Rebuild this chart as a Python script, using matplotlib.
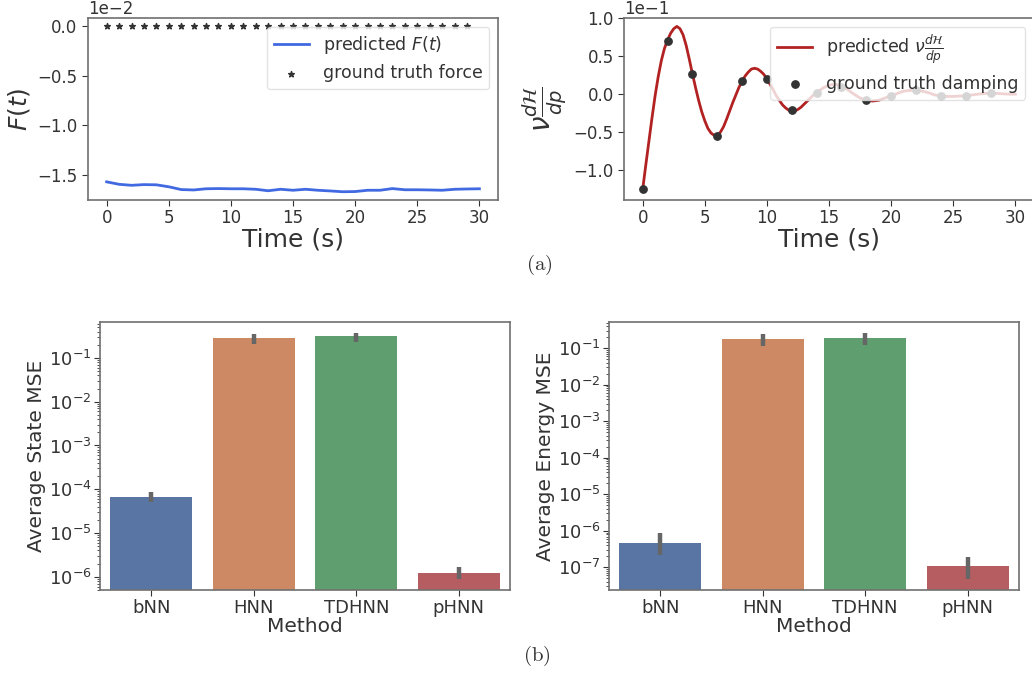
import numpy as np
import matplotlib
matplotlib.use("Agg")
import matplotlib.pyplot as plt

# force panel: learned external force vs ground truth (zero)
force_time = np.arange(0, 31, 1.0)
pred_force = np.array([-1.570, -1.595, -1.605, -1.598, -1.600, -1.620, -1.648, -1.652,
                       -1.640, -1.638, -1.640, -1.640, -1.645, -1.660, -1.645, -1.655,
                       -1.645, -1.655, -1.662, -1.670, -1.668, -1.655, -1.655, -1.638,
                       -1.650, -1.650, -1.652, -1.655, -1.645, -1.642, -1.640]) * 1e-2
true_force_time = np.arange(0, 30, 1.0)
true_force = np.zeros(30)

# damping panel (finer sampling where the oscillation is large)
damp_time = np.concatenate([np.arange(0, 14, 0.25), np.arange(14, 30.5, 0.5)])
pred_damp = np.array([
    -1.25, -0.93, -0.62, -0.31, -0.02, 0.23, 0.44, 0.60, 0.71, 0.80, 0.86, 0.89,
    0.86, 0.78, 0.64, 0.46, 0.27, 0.09, -0.08, -0.23, -0.35, -0.45, -0.51, -0.54,
    -0.54, -0.50, -0.43, -0.33, -0.22, -0.11, -0.01, 0.09, 0.17, 0.24, 0.29, 0.33,
    0.34, 0.33, 0.30, 0.26, 0.20, 0.13, 0.06, -0.02, -0.08, -0.14, -0.18, -0.21,
    -0.22, -0.22, -0.20, -0.17, -0.13, -0.09, -0.05, -0.01,
    0.02, 0.08, 0.12, 0.13, 0.11, 0.06, 0.00, -0.05, -0.08, -0.09, -0.08, -0.05,
    -0.02, 0.01, 0.04, 0.05, 0.05, 0.04, 0.02, -0.01, -0.025, -0.03, -0.03, -0.025,
    -0.02, -0.01, 0.00, 0.01, 0.01, 0.01, 0.005, 0.0, 0.0]) * 1e-1
true_damp_time = np.arange(0, 30, 2.0)
true_damp = np.array([-1.25, 0.695, 0.265, -0.553, 0.168, 0.20, -0.212, 0.01,
                      0.10, -0.075, -0.03, 0.053, -0.027, -0.022, 0.01]) * 1e-1

# MSE comparison
methods = ["bNN", "HNN", "TDHNN", "pHNN"]
bar_colors = ["#5975a4", "#cc8963", "#5f9e6e", "#b55d60"]
state_mse = [6.6e-5, 0.29, 0.31, 1.22e-6]
state_lo = [5.0e-5, 0.21, 0.23, 0.89e-6]
state_hi = [8.5e-5, 0.36, 0.38, 1.67e-6]
energy_mse = [4.6e-7, 0.177, 0.188, 1.09e-7]
energy_lo = [2.2e-7, 0.115, 0.123, 4.7e-8]
energy_hi = [8.5e-7, 0.246, 0.267, 1.88e-7]

txt = "#333333"
plt.rcParams.update({
    "text.color": txt, "axes.labelcolor": txt,
    "xtick.color": txt, "ytick.color": txt,
    "axes.edgecolor": "#707070", "axes.linewidth": 1.2,
    "xtick.major.size": 4, "ytick.major.size": 4,
    "ytick.minor.size": 2,
    "mathtext.fontset": "dejavusans",
})

fig = plt.figure(figsize=(10.32, 6.73), dpi=100)
ax1 = fig.add_axes([0.0853, 0.7028, 0.3973, 0.2704])
ax2 = fig.add_axes([0.6047, 0.7028, 0.3973, 0.2704])
ax3 = fig.add_axes([0.0969, 0.1233, 0.3973, 0.3982])
ax4 = fig.add_axes([0.5901, 0.1233, 0.3973, 0.3982])

ax1.plot(force_time, pred_force, color="royalblue", lw=2, label=r"predicted $F(t)$")
ax1.scatter(true_force_time, true_force, marker="*", s=18, color="#333333",
            label="ground truth force", zorder=3)
ax1.set_ylabel(r"$F(t)$", fontsize=18)
ax1.legend(loc="upper right", fontsize=12.5, edgecolor="#dddddd")

ax2.plot(damp_time, pred_damp, color="firebrick", lw=2,
         label=r"predicted $\nu\frac{d\mathcal{H}}{dp}$")
ax2.scatter(true_damp_time, true_damp, s=28, color="#333333",
            label="ground truth damping", zorder=3)
ax2.set_ylim(-1.39e-1, 1.0e-1)
ax2.set_ylabel(r"$\nu\frac{d\mathcal{H}}{dp}$", fontsize=20)
ax2.legend(loc="upper right", fontsize=12.5, edgecolor="#dddddd")

for ax in (ax1, ax2):
    ax.ticklabel_format(axis="y", style="sci", scilimits=(0, 0), useMathText=False)
    ax.yaxis.get_offset_text().set_fontsize(12)
    ax.tick_params(labelsize=12)
    ax.tick_params(axis="x", pad=2.5)
    ax.set_xticks([0, 5, 10, 15, 20, 25, 30])
    ax.set_xlabel("Time (s)", fontsize=18, labelpad=0)

xpos = np.arange(len(methods))
for ax, vals, lo, hi, ylab, ylim in (
        (ax3, state_mse, state_lo, state_hi, "Average State MSE", (5e-7, 0.66)),
        (ax4, energy_mse, energy_lo, energy_hi, "Average Energy MSE", (2.4e-8, 0.52))):
    ax.bar(xpos, vals, width=0.8, color=bar_colors)
    ax.vlines(xpos, lo, hi, color="#666666", lw=3.2, zorder=3)
    ax.set_yscale("log")
    ax.set_ylim(*ylim)
    ax.set_xlim(-0.5, 3.5)
    ax.set_xticks(xpos, methods)
    ax.set_xlabel("Method", fontsize=14.5, labelpad=0)
    ax.set_ylabel(ylab, fontsize=14.5, labelpad=2)
    ax.tick_params(labelsize=13)
    ax.tick_params(axis="x", pad=2.5)
    ax.tick_params(axis="y", which="major", pad=2)

fig.text(0.523, 0.607, r"$\mathrm{(a)}$", fontsize=15, ha="center", va="center",
         math_fontfamily="cm")
fig.text(0.520, 0.025, r"$\mathrm{(b)}$", fontsize=15, ha="center", va="center",
         math_fontfamily="cm")

fig.savefig("out.png", dpi=100)
